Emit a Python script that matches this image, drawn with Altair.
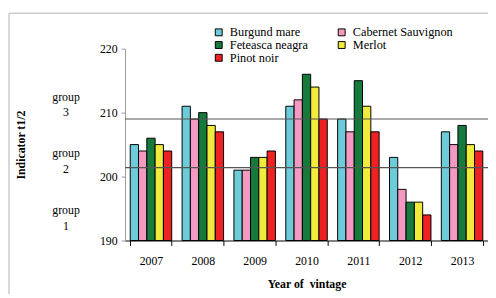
import altair as alt
import pandas as pd

years = ["2007", "2008", "2009", "2010", "2011", "2012", "2013"]
varieties = ["Burgund mare", "Cabernet Sauvignon", "Feteasca neagra", "Merlot", "Pinot noir"]
colors = ["#6ECCDA", "#F49AC2", "#157A3C", "#F0EB3C", "#EE2222"]
values = {
    "Burgund mare":       [205, 211, 201, 211, 209, 203, 207],
    "Cabernet Sauvignon": [204, 209, 201, 212, 207, 198, 205],
    "Feteasca neagra":    [206, 210, 203, 216, 215, 196, 208],
    "Merlot":             [205, 208, 203, 214, 211, 196, 205],
    "Pinot noir":         [204, 207, 204, 209, 207, 194, 204],
}
thresholds = [209.0, 201.4]
group_labels = ["group\n3", "group\n2", "group\n1"]
group_y = [212.5, 203.6, 194.7]

rows = []
for v in varieties:
    for y, val in zip(years, values[v]):
        rows.append({"year": y, "variety": v, "value": val, "base": 190})
df = pd.DataFrame(rows)
thr_df = pd.DataFrame({"t": thresholds})
grp_df = pd.DataFrame({"label": group_labels, "y": group_y})

FONT = "Liberation Serif"

bars = alt.Chart(df).mark_bar(stroke="black", strokeWidth=1).encode(
    x=alt.X("year:N", sort=years,
            scale=alt.Scale(paddingInner=0.2, paddingOuter=0.1),
            axis=alt.Axis(title="Year of\u00a0 vintage", labelAngle=0, tickBand="extent",
                          tickSize=5, labelPadding=10, domainColor="black", tickColor="black",
                          titleFontWeight="bold", titlePadding=13)),
    xOffset=alt.XOffset("variety:N", sort=varieties, scale=alt.Scale(paddingInner=0, paddingOuter=0)),
    y=alt.Y("value:Q", scale=alt.Scale(domain=[190, 220], nice=False, zero=False),
            axis=alt.Axis(title="Indicator t1/2", values=[190, 195, 200, 205, 210, 215, 220],
                          grid=False, tickSize=4, labelPadding=4, domainColor="#999999",
                          tickColor="#999999", titleFontWeight="bold", titleX=-99,
                          titleBaseline="bottom")),
    y2=alt.Y2("base:Q"),
    color=alt.Color("variety:N", sort=varieties,
                    scale=alt.Scale(domain=varieties, range=colors),
                    legend=alt.Legend(orient="none", legendX=89, legendY=-23, columns=2,
                                      direction="horizontal",
                                      columnPadding=28, rowPadding=0, title=None,
                                      symbolType="square", symbolSize=49,
                                      symbolStrokeColor="black", symbolStrokeWidth=1,
                                      labelFont=FONT, labelFontSize=12.5, labelOffset=5,
                                      labelColor="black")),
)

rules = alt.Chart(thr_df).mark_rule(color="#555555", strokeWidth=1.2).encode(
    y=alt.Y("t:Q")
)

groups = alt.Chart(grp_df).mark_text(font=FONT, fontSize=12, color="black",
                                      lineBreak="\n", lineHeight=16, align="center",
                                      baseline="middle").encode(
    x=alt.value(-60),
    y=alt.Y("y:Q"),
    text="label:N",
)

border_top = alt.Chart(thr_df.head(1)).mark_rule(color="#cccccc", strokeWidth=1.5).encode(
    x=alt.value(-118), x2=alt.value(380), y=alt.value(-36)
)
border_left = alt.Chart(thr_df.head(1)).mark_rule(color="#cccccc", strokeWidth=1.5).encode(
    x=alt.value(-118), y=alt.value(-36), y2=alt.value(262)
)

chart = alt.layer(border_top, border_left, bars, rules, groups).properties(
    width=369, height=195,
    autosize=alt.AutoSizeParams(type="none"),
    padding={"left": 119, "top": 39, "right": 0, "bottom": 52},
).configure_view(stroke=None).configure_axis(
    labelFont=FONT, titleFont=FONT, labelFontSize=12, titleFontSize=12,
    labelColor="black", titleColor="black"
)

chart.save("out.html", embed_options={"renderer": "svg", "actions": False})
